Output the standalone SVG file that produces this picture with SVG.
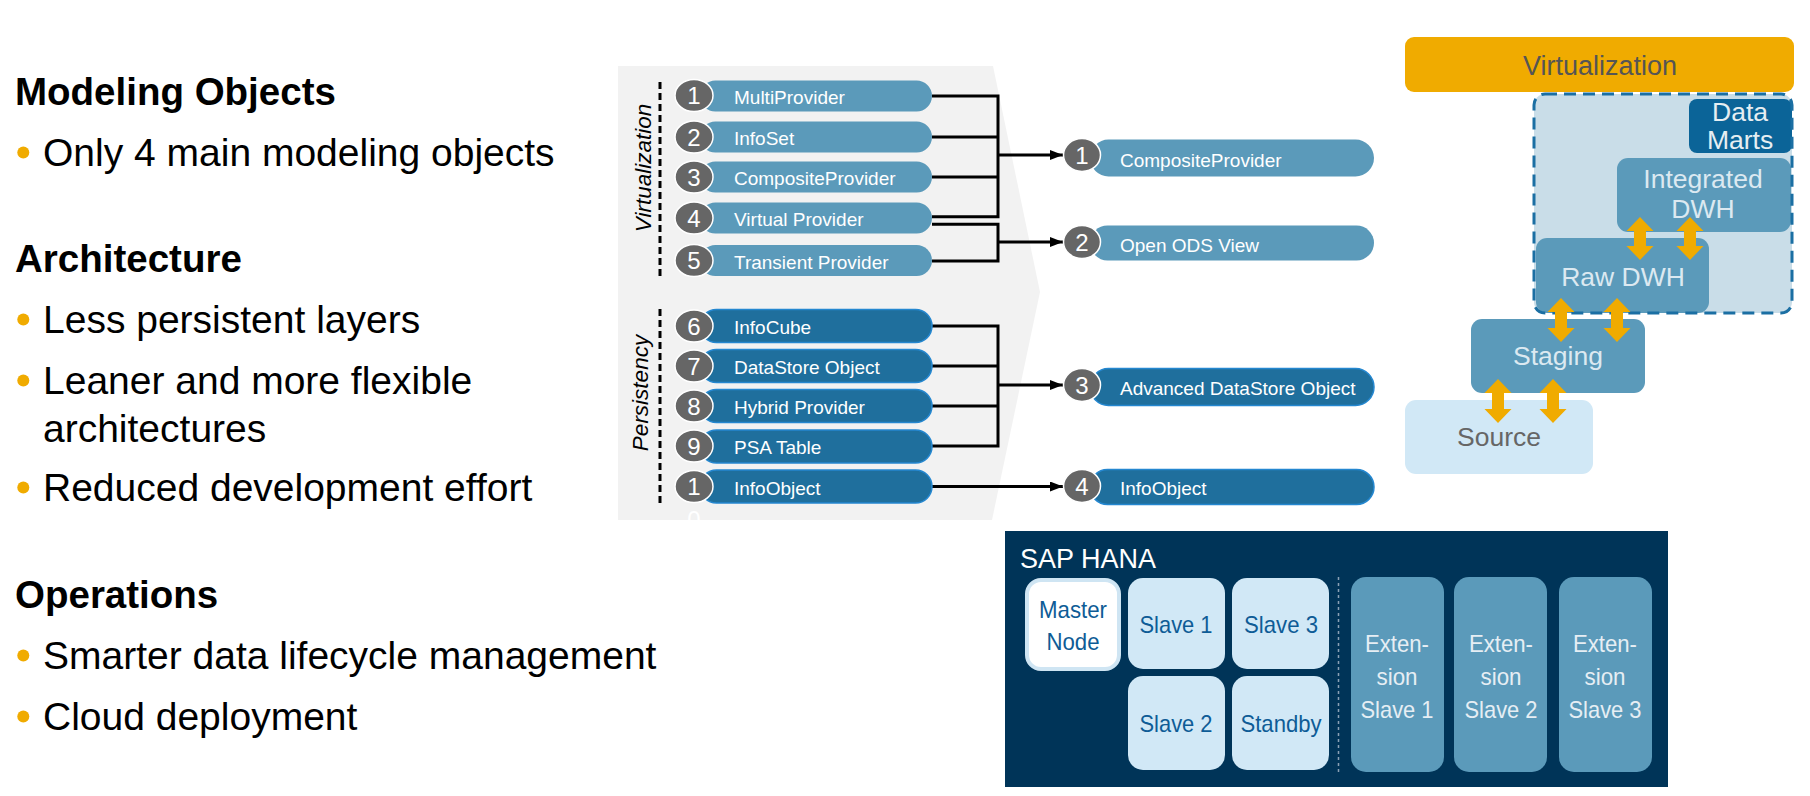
<svg xmlns="http://www.w3.org/2000/svg" width="1810" height="796" viewBox="0 0 1810 796">
<style>
.h{font-family:"Liberation Sans",Arial,sans-serif;font-weight:bold;font-size:38.5px;fill:#000}
.b{font-family:"Liberation Sans",Arial,sans-serif;font-size:39px;fill:#000}
.dot{fill:#f0ab00}
.pl{fill:#5b9aba}
.pd{fill:#1f6f9d;stroke:#2487d0;stroke-width:1.5}
.pt{font-family:"Liberation Sans",Arial,sans-serif;font-size:19px;fill:#fff}
.cn{fill:#666;stroke:#fff;stroke-width:1.5}
.ct{font-family:"Liberation Sans",Arial,sans-serif;font-size:24px;fill:#fff;text-anchor:middle}
.rot{font-family:"Liberation Sans",Arial,sans-serif;font-style:italic;font-size:22.5px;fill:#000;text-anchor:middle}
.conn{fill:none;stroke:#000;stroke-width:3}
.lay{font-family:"Liberation Sans",Arial,sans-serif;font-size:26.5px;text-anchor:middle;fill:#dce9f1}
.mid{fill:#5b9aba}
.oa{fill:#f0ab00}
.hn{font-family:"Liberation Sans",Arial,sans-serif;font-size:24px;text-anchor:middle;fill:#0e5c96}
.hx{font-family:"Liberation Sans",Arial,sans-serif;font-size:24px;text-anchor:middle;fill:#e6eef4}
.sl{fill:#d1e8f6}
.ex{fill:#5b9aba}
</style>
<defs>
<marker id="ah" markerUnits="userSpaceOnUse" markerWidth="13" markerHeight="10" refX="13" refY="5" orient="auto">
<path d="M0,0 L13,5 L0,10 Z" fill="#000"/>
</marker>
</defs>

<g id="left-text">
<text class="h" x="15" y="105">Modeling Objects</text>
<circle class="dot" cx="23.3" cy="152.5" r="6"/>
<text class="b" x="43" y="166">Only 4 main modeling objects</text>
<text class="h" x="15" y="272">Architecture</text>
<circle class="dot" cx="23.3" cy="319.5" r="6"/>
<text class="b" x="43" y="333">Less persistent layers</text>
<circle class="dot" cx="23.3" cy="380.5" r="6"/>
<text class="b" x="43" y="394">Leaner and more flexible</text>
<text class="b" x="43" y="442">architectures</text>
<circle class="dot" cx="23.3" cy="487.5" r="6"/>
<text class="b" x="43" y="501">Reduced development effort</text>
<text class="h" x="15" y="608">Operations</text>
<circle class="dot" cx="23.3" cy="655.5" r="6"/>
<text class="b" x="43" y="669">Smarter data lifecycle management</text>
<circle class="dot" cx="23.3" cy="716.5" r="6"/>
<text class="b" x="43" y="730">Cloud deployment</text>
</g>

<g id="panel">
<polygon points="618,66 993,66 1040,292 992,520 618,520" fill="#f2f2f2"/>
<line x1="660" y1="82" x2="660" y2="277" stroke="#000" stroke-width="3" stroke-dasharray="7 4"/>
<line x1="660" y1="309" x2="660" y2="506" stroke="#000" stroke-width="3" stroke-dasharray="7 4"/>
<text class="rot" transform="translate(651,168) rotate(-90)">Virtualization</text>
<text class="rot" transform="translate(648,393) rotate(-90)">Persistency</text>
</g>

<g id="connectors">
<path class="conn" d="M932,96 H998 M932,137 H998 M932,177 H998 M932,216.7 H998 M998,94.5 V218.2"/>
<line class="conn" x1="998" y1="155" x2="1063" y2="155" marker-end="url(#ah)"/>
<path class="conn" d="M932,224.3 H998 M932,261 H998 M998,222.8 V262.5"/>
<line class="conn" x1="998" y1="242" x2="1063" y2="242" marker-end="url(#ah)"/>
<path class="conn" d="M932,326 H998 M932,366 H998 M932,406 H998 M932,446 H998 M998,324.5 V447.5"/>
<line class="conn" x1="998" y1="385" x2="1063" y2="385" marker-end="url(#ah)"/>
<line class="conn" x1="932" y1="486.5" x2="1063" y2="486.5" marker-end="url(#ah)"/>
</g>

<g id="src-1"><rect class="pl" x="700" y="80.5" width="232" height="31" rx="15.5"/><ellipse class="cn" cx="694" cy="95.5" rx="19" ry="16"/><text class="ct" x="694" y="104">1</text><text class="pt" x="734" y="104">MultiProvider</text></g>
<g id="src-2"><rect class="pl" x="700" y="121.5" width="232" height="31" rx="15.5"/><ellipse class="cn" cx="694" cy="137" rx="19" ry="16"/><text class="ct" x="694" y="145.5">2</text><text class="pt" x="734" y="145">InfoSet</text></g>
<g id="src-3"><rect class="pl" x="700" y="161.5" width="232" height="31" rx="15.5"/><ellipse class="cn" cx="694" cy="177" rx="19" ry="16"/><text class="ct" x="694" y="185.5">3</text><text class="pt" x="734" y="185">CompositeProvider</text></g>
<g id="src-4"><rect class="pl" x="700" y="202.5" width="232" height="31" rx="15.5"/><ellipse class="cn" cx="694" cy="218" rx="19" ry="16"/><text class="ct" x="694" y="226.5">4</text><text class="pt" x="734" y="226">Virtual Provider</text></g>
<g id="src-5"><rect class="pl" x="700" y="245" width="232" height="31" rx="15.5"/><ellipse class="cn" cx="694" cy="260.5" rx="19" ry="16"/><text class="ct" x="694" y="269">5</text><text class="pt" x="734" y="268.5">Transient Provider</text></g>

<g id="src-6"><rect class="pd" x="700" y="309.5" width="232" height="33" rx="16.5"/><ellipse class="cn" cx="694" cy="326" rx="19" ry="16"/><text class="ct" x="694" y="334.5">6</text><text class="pt" x="734" y="334">InfoCube</text></g>
<g id="src-7"><rect class="pd" x="700" y="349.5" width="232" height="33" rx="16.5"/><ellipse class="cn" cx="694" cy="366" rx="19" ry="16"/><text class="ct" x="694" y="374.5">7</text><text class="pt" x="734" y="374">DataStore Object</text></g>
<g id="src-8"><rect class="pd" x="700" y="389.5" width="232" height="33" rx="16.5"/><ellipse class="cn" cx="694" cy="406" rx="19" ry="16"/><text class="ct" x="694" y="414.5">8</text><text class="pt" x="734" y="414">Hybrid Provider</text></g>
<g id="src-9"><rect class="pd" x="700" y="430" width="232" height="33" rx="16.5"/><ellipse class="cn" cx="694" cy="446" rx="19" ry="16"/><text class="ct" x="694" y="454.5">9</text><text class="pt" x="734" y="454">PSA Table</text></g>
<g id="src-10"><rect class="pd" x="700" y="470" width="232" height="33" rx="16.5"/><ellipse class="cn" cx="694" cy="486.5" rx="19" ry="16"/><text class="ct" x="694" y="495">1</text><text class="ct" x="694" y="528" style="fill:#ffffff">0</text><text class="pt" x="734" y="494.5">InfoObject</text></g>

<g id="tgt-1"><rect class="pl" x="1090" y="139.5" width="284" height="37" rx="18.5"/><ellipse class="cn" cx="1082" cy="155" rx="18.5" ry="16.5"/><text class="ct" x="1082" y="163.5">1</text><text class="pt" x="1120" y="166.5">CompositeProvider</text></g>
<g id="tgt-2"><rect class="pl" x="1090" y="225.5" width="284" height="35" rx="17.5"/><ellipse class="cn" cx="1082" cy="242" rx="18.5" ry="16.5"/><text class="ct" x="1082" y="250.5">2</text><text class="pt" x="1120" y="251.5">Open ODS View</text></g>
<g id="tgt-3"><rect class="pd" x="1090" y="368.5" width="284" height="37" rx="18.5"/><ellipse class="cn" cx="1082" cy="385" rx="18.5" ry="16.5"/><text class="ct" x="1082" y="393.5">3</text><text class="pt" x="1120" y="394.5">Advanced DataStore Object</text></g>
<g id="tgt-4"><rect class="pd" x="1090" y="469.5" width="284" height="35" rx="17.5"/><ellipse class="cn" cx="1082" cy="486" rx="18.5" ry="16.5"/><text class="ct" x="1082" y="494.5">4</text><text class="pt" x="1120" y="495">InfoObject</text></g>

<g id="virtualization-bar"><rect x="1405" y="37" width="389" height="55" rx="9" fill="#f0ab00"/><text x="1600" y="75" font-family="Liberation Sans, Arial, sans-serif" font-size="27" fill="#555" text-anchor="middle">Virtualization</text></g>

<g id="dwh-area"><rect x="1534" y="94" width="258" height="219" rx="11" fill="#c9dde8"/></g>
<g id="source"><rect x="1405" y="400" width="188" height="74" rx="11" fill="#d1e8f6"/><text x="1499" y="446" font-family="Liberation Sans, Arial, sans-serif" font-size="26.5" fill="#666" text-anchor="middle">Source</text></g>
<g id="staging"><rect class="mid" x="1471" y="319" width="174" height="74" rx="11"/><text class="lay" x="1558" y="365">Staging</text></g>
<g id="raw-dwh"><rect class="mid" x="1536" y="238" width="173" height="75" rx="11"/><text class="lay" x="1623" y="286">Raw DWH</text></g>
<g id="integrated-dwh"><rect class="mid" x="1617" y="158" width="174" height="74" rx="11"/><text class="lay" x="1703" y="188">Integrated</text><text class="lay" x="1703" y="218">DWH</text></g>
<g id="data-marts"><rect x="1689" y="99" width="103" height="54" rx="8" fill="#0b6498"/><text class="lay" x="1740" y="121" style="fill:#e6eef2">Data</text><text class="lay" x="1740" y="149" style="fill:#e6eef2">Marts</text></g>
<g id="dwh-border"><rect x="1534" y="94" width="258" height="219" rx="11" fill="none" stroke="#1b6fa3" stroke-width="3" stroke-dasharray="12 7"/></g>

<g id="layer-arrows">
<path class="oa" d="M1640,217 L1653.5,231 L1646,231 L1646,246 L1653.5,246 L1640,260 L1626.5,246 L1634,246 L1634,231 L1626.5,231 Z"/>
<path class="oa" d="M1690,217 L1703.5,231 L1696,231 L1696,246 L1703.5,246 L1690,260 L1676.5,246 L1684,246 L1684,231 L1676.5,231 Z"/>
<path class="oa" d="M1561,298 L1574.5,312 L1567,312 L1567,328 L1574.5,328 L1561,342 L1547.5,328 L1555,328 L1555,312 L1547.5,312 Z"/>
<path class="oa" d="M1617,298 L1630.5,312 L1623,312 L1623,328 L1630.5,328 L1617,342 L1603.5,328 L1611,328 L1611,312 L1603.5,312 Z"/>
<path class="oa" d="M1498,379 L1511.5,393 L1504,393 L1504,409 L1511.5,409 L1498,423 L1484.5,409 L1492,409 L1492,393 L1484.5,393 Z"/>
<path class="oa" d="M1553,379 L1566.5,393 L1559,393 L1559,409 L1566.5,409 L1553,423 L1539.5,409 L1547,409 L1547,393 L1539.5,393 Z"/>
</g>

<g id="sap-hana">
<rect x="1005" y="531" width="663" height="256" fill="#003458"/>
<text x="1020" y="568" font-family="Liberation Sans, Arial, sans-serif" font-size="27" fill="#fff">SAP HANA</text>
<line x1="1338.5" y1="577" x2="1338.5" y2="772" stroke="#8aa0b4" stroke-width="1.5" stroke-dasharray="3 3"/>
</g>
<g id="master-node"><rect x="1027" y="580" width="92" height="89" rx="14" fill="#fff" stroke="#cfe5f3" stroke-width="4"/><text class="hn" x="1073" y="618" textLength="68" lengthAdjust="spacingAndGlyphs">Master</text><text class="hn" x="1073" y="650" textLength="53" lengthAdjust="spacingAndGlyphs">Node</text></g>
<g id="slave-1"><rect class="sl" x="1128" y="578" width="97" height="91" rx="15"/><text class="hn" x="1176" y="633" textLength="73" lengthAdjust="spacingAndGlyphs">Slave 1</text></g>
<g id="slave-3"><rect class="sl" x="1232" y="578" width="97" height="91" rx="15"/><text class="hn" x="1281" y="633" textLength="74" lengthAdjust="spacingAndGlyphs">Slave 3</text></g>
<g id="slave-2"><rect class="sl" x="1128" y="676" width="97" height="94" rx="15"/><text class="hn" x="1176" y="732" textLength="73" lengthAdjust="spacingAndGlyphs">Slave 2</text></g>
<g id="standby"><rect class="sl" x="1232" y="676" width="97" height="94" rx="15"/><text class="hn" x="1281" y="732" textLength="81" lengthAdjust="spacingAndGlyphs">Standby</text></g>
<g id="ext-slave-1"><rect class="ex" x="1351" y="577" width="93" height="195" rx="15"/><text class="hx" x="1397" y="652" textLength="64" lengthAdjust="spacingAndGlyphs">Exten-</text><text class="hx" x="1397" y="685" textLength="41" lengthAdjust="spacingAndGlyphs">sion</text><text class="hx" x="1397" y="718" textLength="73" lengthAdjust="spacingAndGlyphs">Slave 1</text></g>
<g id="ext-slave-2"><rect class="ex" x="1454" y="577" width="93" height="195" rx="15"/><text class="hx" x="1501" y="652" textLength="64" lengthAdjust="spacingAndGlyphs">Exten-</text><text class="hx" x="1501" y="685" textLength="41" lengthAdjust="spacingAndGlyphs">sion</text><text class="hx" x="1501" y="718" textLength="73" lengthAdjust="spacingAndGlyphs">Slave 2</text></g>
<g id="ext-slave-3"><rect class="ex" x="1559" y="577" width="93" height="195" rx="15"/><text class="hx" x="1605" y="652" textLength="64" lengthAdjust="spacingAndGlyphs">Exten-</text><text class="hx" x="1605" y="685" textLength="41" lengthAdjust="spacingAndGlyphs">sion</text><text class="hx" x="1605" y="718" textLength="73" lengthAdjust="spacingAndGlyphs">Slave 3</text></g>
</svg>
